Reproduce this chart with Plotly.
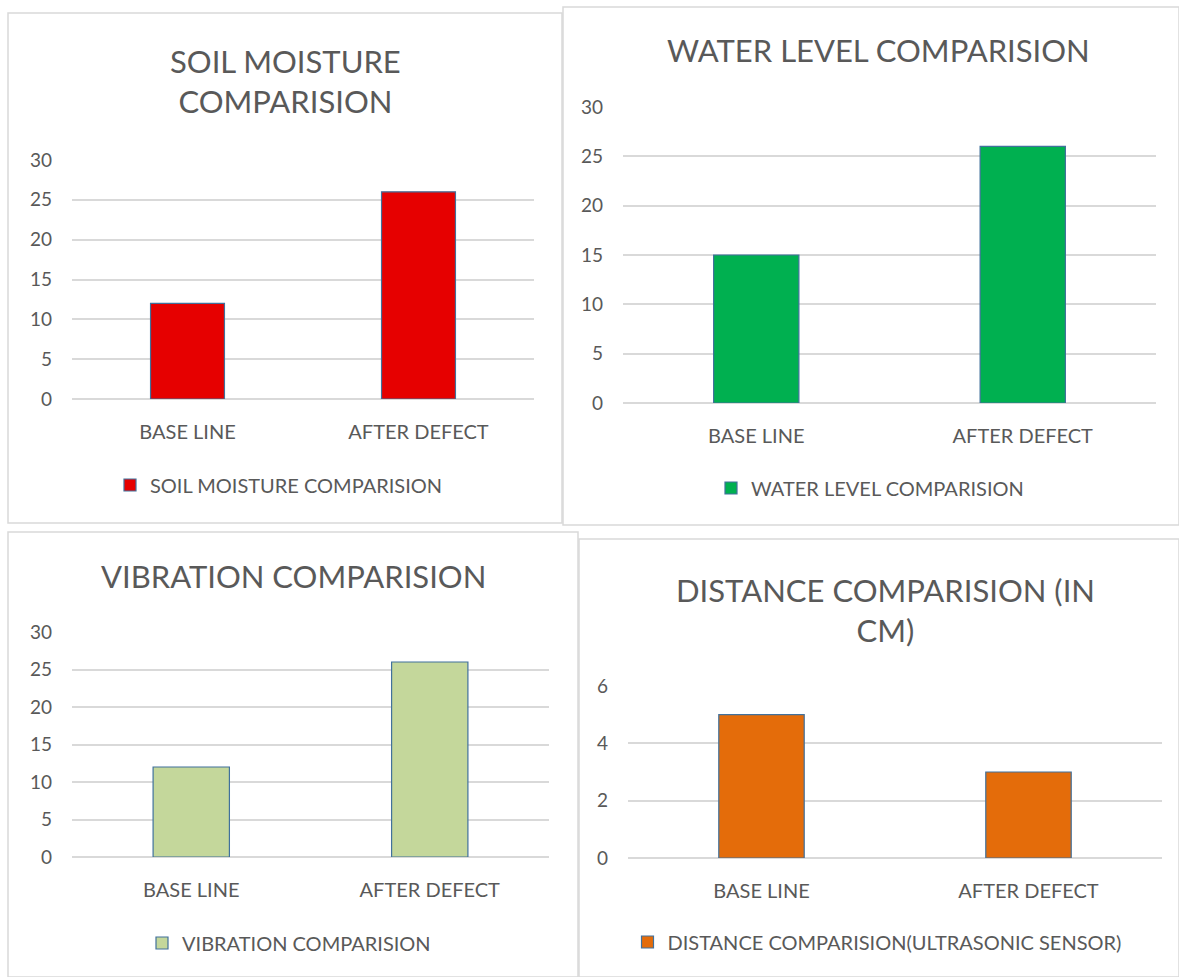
import plotly.graph_objects as go

categories = ["BASE LINE", "AFTER DEFECT"]

soil_values = [12, 26]
water_values = [15, 26]
vibration_values = [12, 26]
distance_values = [5, 3]

panel_titles = ["SOIL MOISTURE<br>COMPARISION", "WATER LEVEL COMPARISION",
                "VIBRATION COMPARISION", "DISTANCE COMPARISION (IN<br>CM)"]
series_names = ["SOIL MOISTURE COMPARISION", "WATER LEVEL COMPARISION",
                "VIBRATION COMPARISION", "DISTANCE COMPARISION(ULTRASONIC SENSOR)"]
y_ticks_30 = [0, 5, 10, 15, 20, 25, 30]
y_ticks_6 = [0, 2, 4, 6]

W, H = 1179, 977
FONT = "Lato"
GREY = "#595959"
GRID = "#d9d9d9"


def px(x):
    return x / W


def py(y):
    return 1 - y / H


panels = [
    dict(values=soil_values, color="#e60000", xd=(72, 534), yd=(399, 160), rng=30, ticks=y_ticks_30,
         border=(8, 13, 562, 523), title_xy=(285, 81), leg_xy=(279, 485)),
    dict(values=water_values, color="#00b050", xd=(623, 1156), yd=(403, 107), rng=30, ticks=y_ticks_30,
         border=(563, 7, 1179, 525), title_xy=(878, 50), leg_xy=(870, 488)),
    dict(values=vibration_values, color="#c4d79b", xd=(72, 549), yd=(857, 632), rng=30, ticks=y_ticks_30,
         border=(8, 532, 578, 977), title_xy=(293, 576), leg_xy=(289, 943)),
    dict(values=distance_values, color="#e46c0a", xd=(628, 1162), yd=(858, 686), rng=6, ticks=y_ticks_6,
         border=(579, 539, 1179, 977), title_xy=(885, 610), leg_xy=(877, 942)),
]

fig = go.Figure()
layout = dict(width=W, height=H, margin=dict(l=0, r=0, t=0, b=0, autoexpand=False),
              paper_bgcolor="white", plot_bgcolor="white",
              font=dict(family=FONT, color=GREY))
shapes = []
annotations = []

for i, p in enumerate(panels):
    n = i + 1
    xa = "x" if n == 1 else f"x{n}"
    ya = "y" if n == 1 else f"y{n}"
    lg = "legend" if n == 1 else f"legend{n}"
    fig.add_trace(go.Bar(
        x=categories, y=p["values"], name=series_names[i],
        marker=dict(color=p["color"], line=dict(color="#41719c", width=1.2)),
        width=0.32, xaxis=xa, yaxis=ya, legend=lg, showlegend=True,
    ))
    layout["xaxis" if n == 1 else f"xaxis{n}"] = dict(
        domain=[px(p["xd"][0]), px(p["xd"][1])], anchor=ya, range=[-0.5, 1.5],
        showgrid=False, showline=False, ticks="", zeroline=False, automargin=False,
        tickfont=dict(size=20, color=GREY, family=FONT), ticklabelstandoff=19,
    )
    layout["yaxis" if n == 1 else f"yaxis{n}"] = dict(
        domain=[py(p["yd"][0]), py(p["yd"][1])], anchor=xa, range=[0, p["rng"]],
        tickvals=p["ticks"], showgrid=True, gridcolor=GRID, gridwidth=1.5,
        zeroline=True, zerolinecolor=GRID, zerolinewidth=1.5, showline=False, automargin=False,
        tickfont=dict(size=19, color=GREY, family=FONT), ticks="", ticklabelstandoff=19,
    )
    layout[lg] = dict(
        x=px(p["leg_xy"][0]), y=py(p["leg_xy"][1]), xanchor="center", yanchor="middle",
        orientation="h", font=dict(size=20, color=GREY, family=FONT),
        bgcolor="rgba(0,0,0,0)", itemwidth=30,
    )
    x0, y0, x1, y1 = p["border"]
    shapes.append(dict(type="rect", xref="paper", yref="paper",
                       x0=px(x0), x1=px(x1), y0=py(y1), y1=py(y0),
                       line=dict(color="#d9d9d9", width=1.5), fillcolor="rgba(0,0,0,0)"))
    annotations.append(dict(text=panel_titles[i], xref="paper", yref="paper",
                            x=px(p["title_xy"][0]), y=py(p["title_xy"][1]),
                            xanchor="center", yanchor="middle", showarrow=False,
                            font=dict(size=31, color=GREY, family=FONT)))

layout["shapes"] = shapes
layout["annotations"] = annotations
fig.update_layout(**layout)
fig.write_html(
    "out.html",
    config={"displayModeBar": False, "responsive": False},
    post_script=(
        "document.body.style.margin='0';"
        "document.documentElement.style.overflow='hidden';"
        "document.body.style.overflow='hidden';"
        "var d=document.getElementById('{plot_id}');"
        "d.style.position='fixed';d.style.top='0';d.style.left='0';"
    ),
)
